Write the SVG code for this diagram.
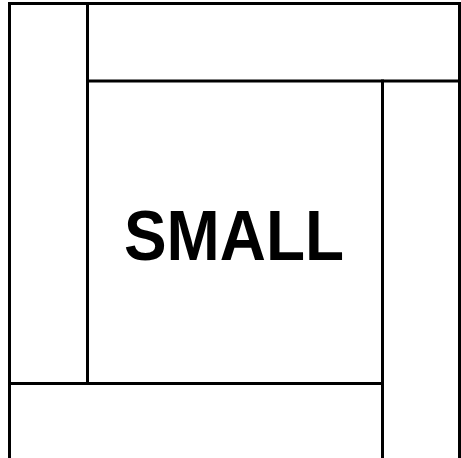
<svg xmlns="http://www.w3.org/2000/svg" width="461" height="458" viewBox="0 0 461 458">
<style>
.ln{stroke:#000;stroke-width:3;fill:none;stroke-linecap:square}
.t{font-family:"Liberation Sans",Arial,sans-serif;font-weight:bold;font-size:70px;fill:#000}
</style>
<rect width="461" height="458" fill="#fff"/>
<g id="connectors">
<path class="ln" d="M9.5,460 V3.5 H459.5 V460"/>
<path class="ln" d="M87.5,3.5 V383.5"/>
<path class="ln" d="M87.5,81 H459.5"/>
<path class="ln" d="M382.5,81 V460"/>
<path class="ln" d="M9.5,383.5 H382.5"/>
</g>
<g id="label">
<text class="t" x="234" y="260" text-anchor="middle" textLength="220" lengthAdjust="spacingAndGlyphs">SMALL</text>
</g>
</svg>
